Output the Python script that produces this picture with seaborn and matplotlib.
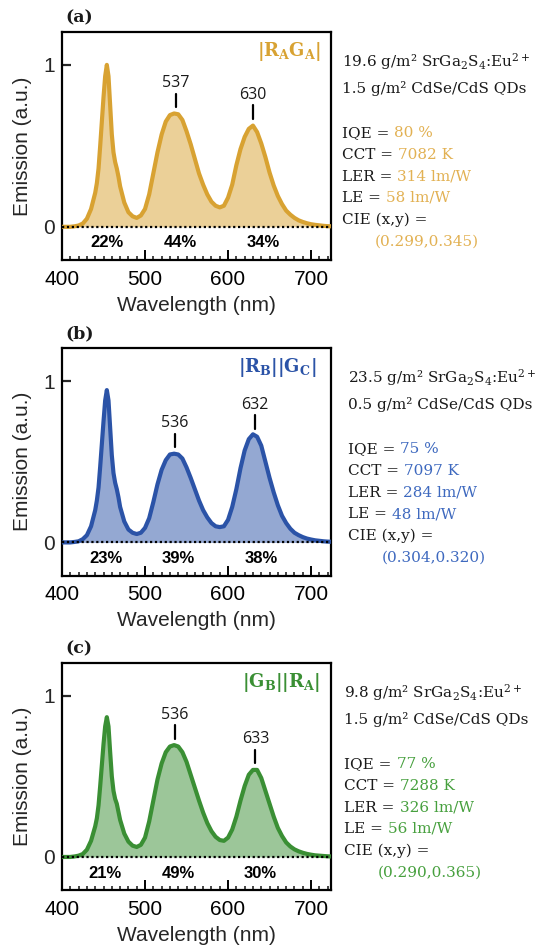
import numpy as np
import matplotlib
matplotlib.use("Agg")
import matplotlib.pyplot as plt
import seaborn as sns
from matplotlib.ticker import MultipleLocator, NullLocator

# ---- data ----
wavelength = [400, 405, 410, 415, 420, 425, 430, 435,
              440, 442, 444, 446, 448, 450, 452, 454, 456, 458, 460, 462, 464, 466, 468, 470,
              475, 480, 485, 490, 495, 500, 505, 510, 515, 520,
              525, 530, 535, 540, 545, 550, 555, 560, 565, 570,
              575, 580, 585, 590, 595, 600, 605, 610, 615, 620,
              625, 630, 635, 640, 645, 650, 655, 660, 665, 670,
              675, 680, 685, 690, 695, 700, 705, 710, 715, 720, 725]

emission_a = [0.0, 0.0, 0.0, 0.003, 0.008, 0.02, 0.05, 0.11,
              0.21, 0.27, 0.36, 0.50, 0.65, 0.80, 0.93, 1.00, 0.93, 0.75, 0.57, 0.46, 0.40, 0.36, 0.31, 0.25,
              0.15, 0.09, 0.065, 0.055, 0.07, 0.11, 0.20, 0.33, 0.46, 0.57,
              0.65, 0.69, 0.70, 0.695, 0.66, 0.59, 0.51, 0.42, 0.33, 0.26,
              0.20, 0.155, 0.13, 0.12, 0.13, 0.18, 0.26, 0.38, 0.48, 0.555,
              0.605, 0.625, 0.585, 0.515, 0.43, 0.335, 0.255, 0.19, 0.14, 0.10,
              0.075, 0.055, 0.04, 0.03, 0.022, 0.016, 0.012, 0.009, 0.006, 0.004, 0.003]

emission_b = [0.0, 0.0, 0.0, 0.003, 0.007, 0.02, 0.045, 0.10,
              0.20, 0.26, 0.34, 0.47, 0.61, 0.75, 0.88, 0.944, 0.88, 0.71, 0.54, 0.43, 0.37, 0.33, 0.28, 0.22,
              0.13, 0.08, 0.06, 0.052, 0.06, 0.09, 0.15, 0.25, 0.36, 0.45,
              0.51, 0.545, 0.55, 0.545, 0.52, 0.465, 0.40, 0.33, 0.26, 0.20,
              0.155, 0.12, 0.10, 0.095, 0.10, 0.14, 0.22, 0.33, 0.46, 0.57,
              0.64, 0.67, 0.655, 0.60, 0.50, 0.40, 0.31, 0.23, 0.165, 0.12,
              0.085, 0.06, 0.045, 0.033, 0.024, 0.018, 0.013, 0.01, 0.007, 0.005, 0.004]

emission_c = [0.0, 0.0, 0.0, 0.003, 0.008, 0.018, 0.045, 0.10,
              0.19, 0.24, 0.32, 0.44, 0.57, 0.70, 0.81, 0.867, 0.81, 0.65, 0.50, 0.41, 0.36, 0.33, 0.28, 0.23,
              0.145, 0.095, 0.07, 0.062, 0.075, 0.12, 0.22, 0.35, 0.48, 0.58,
              0.65, 0.685, 0.694, 0.685, 0.65, 0.59, 0.51, 0.43, 0.35, 0.275,
              0.21, 0.16, 0.125, 0.105, 0.10, 0.12, 0.17, 0.25, 0.35, 0.44,
              0.51, 0.54, 0.54, 0.49, 0.41, 0.33, 0.25, 0.18, 0.13, 0.09,
              0.065, 0.047, 0.035, 0.026, 0.019, 0.014, 0.01, 0.008, 0.006, 0.004, 0.003]

panel_labels = ['(a)', '(b)', '(c)']
series_names = [r'$\mathbf{|R_AG_A|}$', r'$\mathbf{|R_B||G_C|}$', r'$\mathbf{|G_B||R_A|}$']
peak_nm = [[537, 630], [536, 632], [536, 633]]
share_text = [['22%', '44%', '34%'], ['23%', '39%', '38%'], ['21%', '49%', '30%']]
share_nm = [[454, 543, 642], [453, 540, 640], [452, 540, 639]]
phosphor_load = ['19.6', '23.5', '9.8']
qd_load = ['1.5', '0.5', '1.5']
iqe = ['80 %', '75 %', '77 %']
cct = ['7082 K', '7097 K', '7288 K']
ler = ['314 lm/W', '284 lm/W', '326 lm/W']
le = ['58 lm/W', '48 lm/W', '56 lm/W']
cie = ['(0.299,0.345)', '(0.304,0.320)', '(0.290,0.365)']

line_colors = ['#D8A232', '#2B53A7', '#3A8F34']
text_colors = ['#E2B153', '#3E69BF', '#47A03E']

emission = [emission_a, emission_b, emission_c]

# ---- style ----
sns.set_style('ticks')
plt.rcParams['font.family'] = ['Liberation Sans', 'DejaVu Sans']
plt.rcParams['mathtext.fontset'] = 'dejavuserif'

W, H = 538, 951
fig = plt.figure(figsize=(W / 100, H / 100), dpi=100)

# axes boxes in pixels: left, top, right, bottom
boxes = [(62, 31.7, 331, 260), (62, 348, 331, 575.5), (62, 662.7, 331, 890)]
info_x = [(342, 375), (348, 382), (344.5, 377.5)]
name_x = [0.964, 0.946, 0.958]

serif = ['DejaVu Serif']
dark = '#1a1a1a'
fs_info = 11

for i, (l, t, r, b) in enumerate(boxes):
    ax = fig.add_axes([l / W, 1 - b / H, (r - l) / W, (b - t) / H])
    y = emission[i]

    ax.fill_between(wavelength, 0, y, color=line_colors[i], alpha=0.5, lw=0, zorder=2)
    sns.lineplot(x=wavelength, y=y, ax=ax, color=line_colors[i], linewidth=3.0, zorder=3)
    ax.axhline(0, color='black', ls=(0, (1, 1.2)), lw=1.6, zorder=4)

    ax.set_xlim(400, 724)
    ax.set_ylim(-0.205, 1.205)
    ax.set_xticks([400, 500, 600, 700])
    ax.xaxis.set_minor_locator(MultipleLocator(10))
    ax.set_yticks([0, 1])
    ax.set_yticklabels(['0', '1'])
    ax.yaxis.set_minor_locator(NullLocator())
    ax.tick_params(axis='x', which='major', direction='in', length=7, width=1.4,
                   labelsize=15, pad=7, colors='black')
    ax.tick_params(axis='x', which='minor', direction='in', length=3.2, width=1.2)
    ax.tick_params(axis='y', which='major', direction='in', length=6.5, width=1.6,
                   labelsize=15, pad=5)
    for s in ax.spines.values():
        s.set_linewidth(1.6)
        s.set_color('black')
    ax.set_xlabel('Wavelength (nm)', fontsize=15, labelpad=5)
    ax.set_ylabel('Emission (a.u.)', fontsize=15, labelpad=8)

    # peak markers
    for p in peak_nm[i]:
        h = np.interp(p, wavelength, y)
        ax.plot([p, p], [h + 0.04, h + 0.125], color='black', lw=1.6, zorder=5)
        ax.text(p, h + 0.19, str(p), ha='center', va='center', fontsize=11.5,
                family=['Open Sans', 'DejaVu Sans'], color=dark)

    # share of each band
    for s_txt, s_nm in zip(share_text[i], share_nm[i]):
        ax.text(s_nm, -0.1, s_txt, ha='center', va='center', fontsize=12,
                fontweight='bold', color='black')

    ax.text(name_x[i], 0.915, series_names[i], transform=ax.transAxes, ha='right',
            va='center', fontsize=13, color=line_colors[i])

    # panel letter
    ax.annotate(panel_labels[i], xy=(65, H - (t - 14)), xycoords='figure pixels',
                ha='left', va='center', fontsize=12.5, fontweight='bold',
                family=serif, color=dark)

    # info block
    x0, xc = info_x[i]
    base = [t + 35, t + 61, t + 105, t + 127, t + 149, t + 170, t + 192, t + 214]
    ax.annotate(phosphor_load[i] + ' g/m² SrGa$_2$S$_4$:Eu$^{2+}$', xy=(x0, H - base[0]),
                xycoords='figure pixels', va='baseline', fontsize=fs_info, family=serif, color=dark)
    ax.annotate(qd_load[i] + ' g/m² CdSe/CdS QDs', xy=(x0, H - base[1]),
                xycoords='figure pixels', va='baseline', fontsize=fs_info, family=serif, color=dark)
    pairs = [('IQE = ', iqe[i]), ('CCT = ', cct[i]), ('LER = ', ler[i]), ('LE = ', le[i])]
    for k, (lab, val) in enumerate(pairs):
        lt = ax.annotate(lab, xy=(x0, H - base[2 + k]), xycoords='figure pixels',
                         va='baseline', fontsize=fs_info, family=serif, color=dark)
        ax.annotate(val, xy=(1, 0), xycoords=lt, va='bottom', ha='left',
                    fontsize=fs_info, family=serif, color=text_colors[i])
    ax.annotate('CIE (x,y) =', xy=(x0, H - base[6]), xycoords='figure pixels',
                va='baseline', fontsize=fs_info, family=serif, color=dark)
    ax.annotate(cie[i], xy=(xc, H - base[7]), xycoords='figure pixels',
                va='baseline', fontsize=fs_info, family=serif, color=text_colors[i])

fig.savefig('out.png', dpi=100)
